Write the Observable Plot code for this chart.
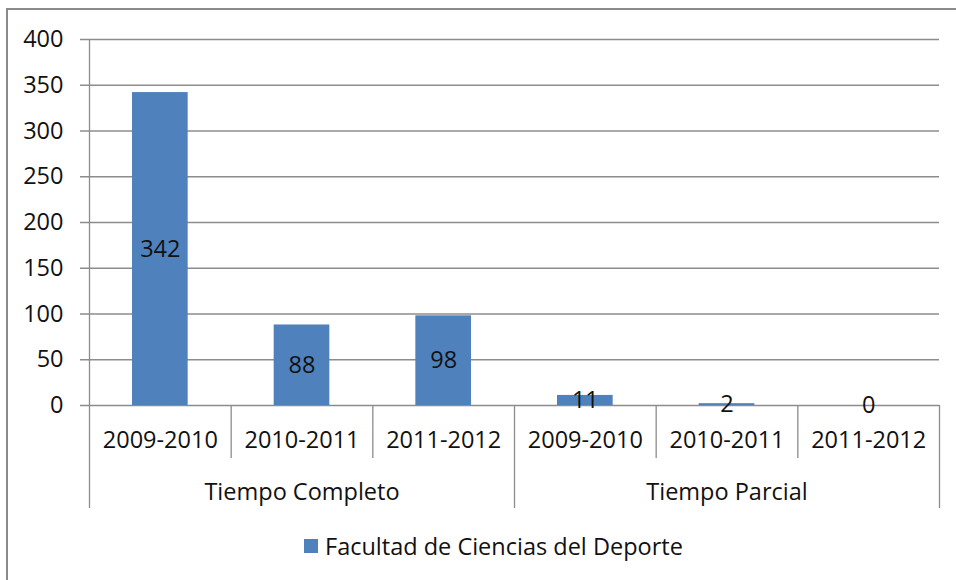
<!DOCTYPE html>
<html>
<head>
<meta charset="utf-8">
<script src="https://cdn.jsdelivr.net/npm/d3@7"></script>
<script src="https://cdn.jsdelivr.net/npm/@observablehq/plot@0.6"></script>
<style>
  html, body { margin: 0; padding: 0; background: #fff; }
  #wrap { position: relative; width: 956px; height: 580px; overflow: hidden; background: #fff; font-family: "Open Sans", sans-serif; }
  #chart { position: absolute; left: 0; top: 0; }
  #border { position: absolute; left: 6px; top: 8px; width: 2000px; height: 2000px; border-top: 2px solid #8a8a8a; border-left: 2px solid #8a8a8a; pointer-events: none; }
  #legend { position: absolute; left: 304px; top: 530px; display: flex; align-items: center; font-size: 23.5px; color: #111; white-space: nowrap; }
  #legend .sw { width: 14px; height: 14px; background: #4F81BD; margin-right: 7px; }
</style>
</head>
<body>
<div id="wrap">
  <div id="chart"></div>
  <div id="legend"><span class="sw"></span><span id="legend-text"></span></div>
  <div id="border"></div>
</div>
<script>
const groups = ["Tiempo Completo", "Tiempo Parcial"];
const years = ["2009-2010", "2010-2011", "2011-2012"];
const values = [342, 88, 98, 11, 2, 0];
const seriesName = "Facultad de Ciencias del Deporte";
const yTicks = [0, 50, 100, 150, 200, 250, 300, 350, 400];

const rows = values.map((v, i) => ({
  i,
  group: groups[Math.floor(i / years.length)],
  year: years[i % years.length],
  value: v
}));
const groupRows = groups.map((g, j) => ({ group: g, mid: j * years.length + years.length / 2 }));
const innerSeps = [];
const outerSeps = [];
for (let k = 0; k <= values.length; k++) {
  if (k % years.length === 0) outerSeps.push(k); else innerSeps.push(k);
}

const gray = "#8c8c8c";
const fs = 23.5;
const frameH = 520 - 39 - 115;

const chart = Plot.plot({
  width: 956,
  height: 520,
  marginLeft: 89,
  marginRight: 17,
  marginTop: 39,
  marginBottom: 115,
  style: { fontFamily: "Open Sans, sans-serif", fontSize: fs + "px", color: "#111", background: "transparent", overflow: "visible" },
  x: { domain: [0, values.length], axis: null },
  y: { domain: [0, 400], axis: null },
  marks: [
    Plot.ruleY(yTicks, { stroke: gray, strokeWidth: 1.3, insetLeft: -9 }),
    Plot.axisY(yTicks, { tickSize: 0, tickPadding: 26, tickFormat: d => String(d), label: null, fontSize: fs, stroke: "none", fill: "#111" }),
    Plot.rectY(rows, { x1: d => d.i, x2: d => d.i + 1, y: "value", fill: "#4F81BD", insetLeft: 43, insetRight: 43 }),
    Plot.ruleX(outerSeps.filter(k => k === 0), { stroke: gray, strokeWidth: 1.3, insetBottom: -103 }),
    Plot.ruleX(outerSeps.filter(k => k !== 0), { stroke: gray, strokeWidth: 1.3, insetTop: frameH, insetBottom: -103 }),
    Plot.ruleX(innerSeps, { stroke: gray, strokeWidth: 1.3, insetTop: frameH, insetBottom: -53 }),
    Plot.text(rows, { x: d => d.i + 0.5, y: d => d.value / 2, text: d => String(d.value), fill: "#111", fontSize: fs }),
    Plot.text(rows, { x: d => d.i + 0.5, y: 0, text: "year", dy: 35, fill: "#111", fontSize: fs }),
    Plot.text(groupRows, { x: "mid", y: 0, text: "group", dy: 87, fill: "#111", fontSize: fs })
  ]
});
document.getElementById("chart").appendChild(chart);
document.getElementById("legend-text").textContent = seriesName;
</script>
</body>
</html>
